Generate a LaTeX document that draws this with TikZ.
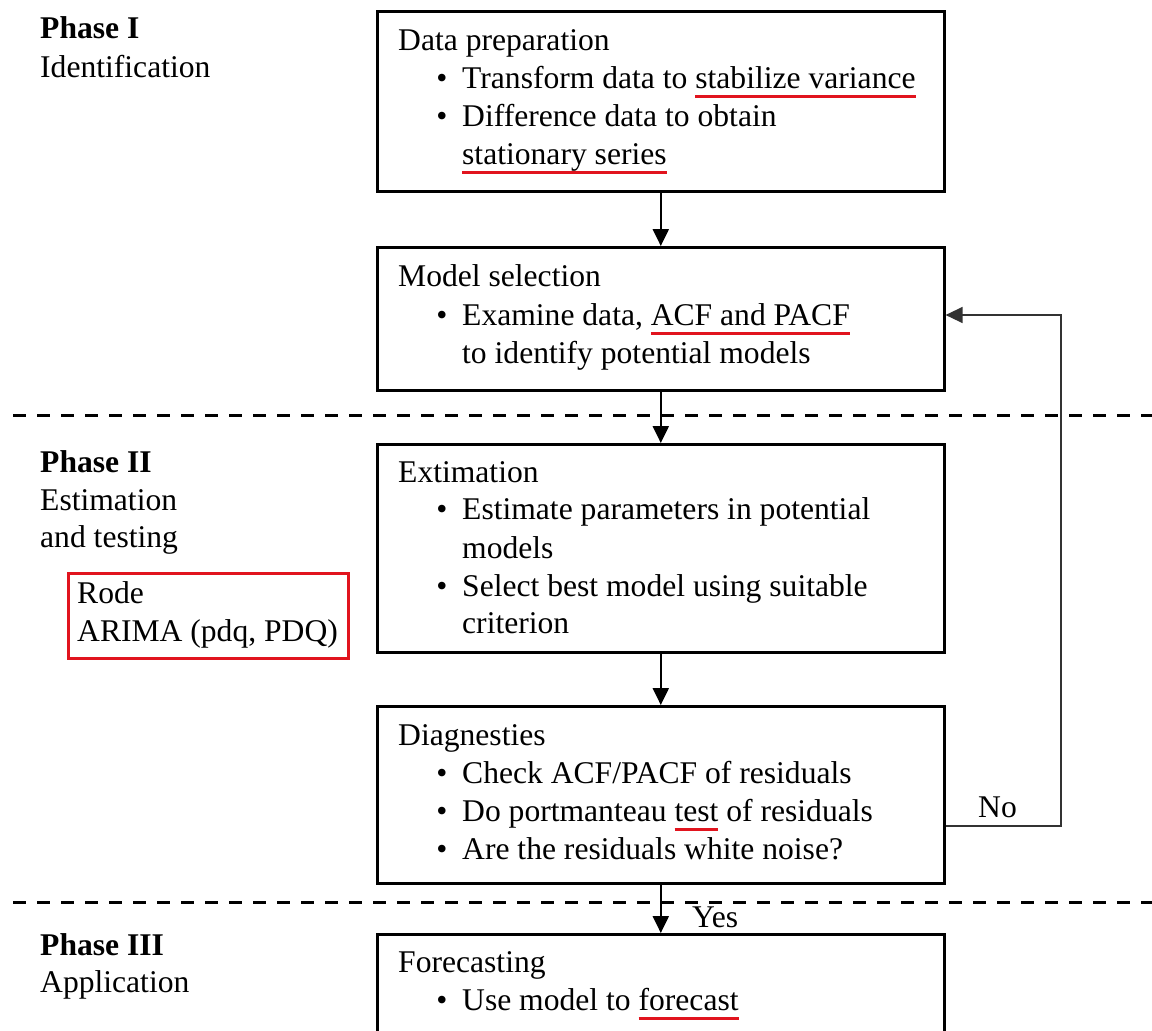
\documentclass[tikz,border=0pt]{standalone}
\usepackage{fontspec}
\setmainfont{Liberation Serif}
\usetikzlibrary{arrows.meta}

% red underline kept below the baseline of the underlined words
\newcommand\redul[1]{\setbox0\hbox{#1}\rlap{\color{ulred}\rule[-9.6pt]{\wd0}{2.4pt}}\box0\relax}
\definecolor{ulred}{RGB}{225,20,30}

\begin{document}
\begin{tikzpicture}[x=1pt,y=-1pt,
  every node/.style={font=\fontsize{31.6}{38}\selectfont},
  box/.style={draw=black, line width=2.6pt, rectangle, inner sep=0pt,
    minimum width=567pt, anchor=north west},
  txt/.style={anchor=base west, inner sep=0pt},
  bul/.style={anchor=base, inner sep=0pt},
  flow/.style={line width=2.2pt, -{Triangle[width=16pt,length=17pt]}},
  fb/.style={line width=1.4pt, draw=black!80, -{Triangle[width=16pt,length=17pt]}},
  phase/.style={dash pattern=on 13pt off 11pt, line width=3pt},
  notebox/.style={draw=ulred, line width=2.6pt, rectangle, inner sep=0pt,
    minimum width=280pt, minimum height=85pt, anchor=north west}]

\useasboundingbox (0,0) rectangle (1152,1031);
\fill[white] (0,0) rectangle (1152,1031);
\clip (0,0) rectangle (1152,1031);

% phase separators
\draw[phase] (13,415) -- (1152,415);
\draw[phase] (13,902) -- (1152,902);

% phase titles
\node[txt] (p1) at (40,38) {\textbf{Phase I}};
\node[txt] (p1s) at (40,77) {Identification};
\node[txt] (p2) at (40,472) {\textbf{Phase II}};
\node[txt] (p2s) at (40,510) {Estimation};
\node[txt] (p2t) at (40,547) {and testing};
\node[txt] (p3) at (40,955) {\textbf{Phase III}};
\node[txt] (p3s) at (40,992) {Application};

% model note
\node[notebox] (note) at (67,572) {};
\node[txt] (n1) at (77,603) {Rode};
\node[txt] (n2) at (77,641) {ARIMA (pdq, PDQ)};

% step boxes
\node[box, minimum height=180pt] (b1) at (376,10) {};
\node[box, minimum height=143pt] (b2) at (376,246) {};
\node[box, minimum height=208pt] (b3) at (376,443) {};
\node[box, minimum height=177pt] (b4) at (376,705) {};
\node[box, minimum height=160pt] (b5) at (376,933) {};

% data preparation
\node[txt] (t11) at (398,50) {Data preparation};
\node[bul] (u12) at (442,88) {•};
\node[txt] (t12) at (462,88) {Transform data to \redul{stabilize variance}};
\node[bul] (u13) at (442,126) {•};
\node[txt] (t13) at (462,126) {Difference data to obtain};
\node[txt] (t14) at (462,164) {\redul{stationary series}};

% model selection
\node[txt] (t21) at (398,286) {Model selection};
\node[bul] (u22) at (442,325) {•};
\node[txt] (t22) at (462,325) {Examine data, \redul{ACF and PACF}};
\node[txt] (t23) at (462,363) {to identify potential models};

% estimation
\node[txt] (t31) at (398,482) {Extimation};
\node[bul] (u32) at (442,519) {•};
\node[txt] (t32) at (462,519) {Estimate parameters in potential};
\node[txt] (t33) at (462,558) {models};
\node[bul] (u34) at (442,596) {•};
\node[txt] (t34) at (462,596) {Select best model using suitable};
\node[txt] (t35) at (462,633) {criterion};

% diagnostics
\node[txt] (t41) at (398,745) {Diagnesties};
\node[bul] (u42) at (442,783) {•};
\node[txt] (t42) at (462,783) {Check ACF/PACF of residuals};
\node[bul] (u43) at (442,821) {•};
\node[txt] (t43) at (462,821) {Do portmanteau \redul{test} of residuals};
\node[bul] (u44) at (442,859) {•};
\node[txt] (t44) at (462,859) {Are the residuals white noise?};

% forecasting
\node[txt] (t51) at (398,972) {Forecasting};
\node[bul] (u52) at (442,1010) {•};
\node[txt] (t52) at (462,1010) {Use model to \redul{forecast}};

% main flow
\draw[flow] (b1.south) -- (b2.north);
\draw[flow] (b2.south) -- (b3.north);
\draw[flow] (b3.south) -- (b4.north);
\draw[flow] (b4.south) -- (b5.north);
\node[txt] (yes) at (692,927) {Yes};

% loop back when residuals are not white noise
\coordinate (fbl) at (1061,826);
\coordinate (fbu) at (1061,315);
\draw[fb] (b4.east |- fbl) -- (fbl) -- (fbu) -- (b2.east |- fbu);
\node[txt] (no) at (978,817) {No};
\end{tikzpicture}
\end{document}
